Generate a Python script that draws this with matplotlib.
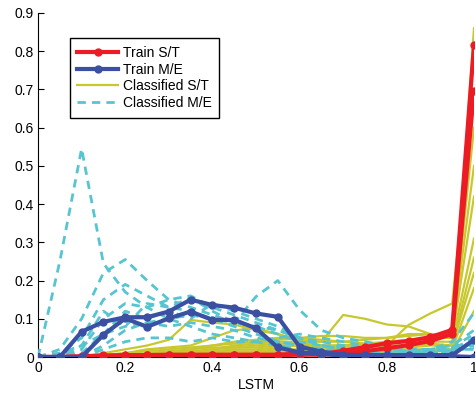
import matplotlib
matplotlib.use("Agg")
import matplotlib.pyplot as plt

plt.rcParams["font.family"] = ["Liberation Sans", "DejaVu Sans"]

# x positions (thresholds)
x = [0.0, 0.05, 0.1, 0.15, 0.2, 0.25, 0.3, 0.35, 0.4, 0.45, 0.5,
     0.55, 0.6, 0.65, 0.7, 0.75, 0.8, 0.85, 0.9, 0.95, 1.0]

train_st = [
    [0, 0, 0.002, 0.004, 0.005, 0.005, 0.006, 0.006, 0.006, 0.006, 0.006,
     0.006, 0.009, 0.008, 0.016, 0.026, 0.036, 0.042, 0.052, 0.071, 0.815],
    [0, 0, 0.001, 0.002, 0.003, 0.004, 0.004, 0.005, 0.005, 0.005, 0.005,
     0.005, 0.006, 0.006, 0.009, 0.015, 0.023, 0.031, 0.042, 0.060, 0.697],
]

train_me = [
    [0, 0, 0.066, 0.092, 0.104, 0.104, 0.119, 0.150, 0.136, 0.129, 0.114,
     0.105, 0.027, 0.014, 0.006, 0.005, 0.005, 0.005, 0.005, 0.005, 0.045],
    [0, 0, 0, 0.058, 0.101, 0.079, 0.101, 0.119, 0.097, 0.097, 0.075,
     0.025, 0.012, 0.008, 0.003, 0.002, 0.002, 0.002, 0.002, 0.002, 0.0],
]

classified_st = [
    [0, 0, 0, 0.010, 0.020, 0.030, 0.045, 0.097, 0.090, 0.085, 0.070,
     0.060, 0.040, 0.030, 0.020, 0.015, 0.012, 0.010, 0.015, 0.020, 0.86],
    [0, 0, 0, 0.005, 0.010, 0.020, 0.025, 0.030, 0.050, 0.070, 0.075,
     0.060, 0.045, 0.040, 0.110, 0.100, 0.085, 0.080, 0.060, 0.050, 0.82],
    [0, 0, 0, 0, 0.005, 0.010, 0.015, 0.020, 0.030, 0.040, 0.045,
     0.050, 0.050, 0.045, 0.040, 0.035, 0.030, 0.084, 0.114, 0.140, 0.70],
    [0, 0, 0, 0.005, 0.010, 0.015, 0.020, 0.025, 0.030, 0.035, 0.040,
     0.045, 0.050, 0.055, 0.055, 0.050, 0.050, 0.055, 0.060, 0.055, 0.60],
    [0, 0, 0, 0, 0.004, 0.006, 0.010, 0.015, 0.020, 0.030, 0.035,
     0.040, 0.040, 0.040, 0.040, 0.045, 0.050, 0.060, 0.060, 0.060, 0.50],
    [0, 0, 0, 0, 0, 0.005, 0.008, 0.010, 0.015, 0.020, 0.020,
     0.025, 0.030, 0.030, 0.030, 0.035, 0.040, 0.045, 0.050, 0.050, 0.42],
    [0, 0, 0, 0, 0.003, 0.005, 0.008, 0.012, 0.020, 0.025, 0.030,
     0.035, 0.035, 0.030, 0.030, 0.030, 0.035, 0.040, 0.040, 0.040, 0.31],
    [0, 0, 0, 0.002, 0.004, 0.008, 0.012, 0.020, 0.025, 0.025, 0.025,
     0.030, 0.030, 0.025, 0.025, 0.025, 0.030, 0.030, 0.035, 0.030, 0.26],
    [0, 0, 0, 0, 0.002, 0.004, 0.006, 0.010, 0.012, 0.015, 0.015,
     0.020, 0.020, 0.020, 0.020, 0.020, 0.025, 0.025, 0.030, 0.030, 0.22],
    [0, 0, 0, 0, 0, 0.002, 0.004, 0.006, 0.008, 0.010, 0.012,
     0.015, 0.015, 0.015, 0.015, 0.015, 0.020, 0.020, 0.020, 0.020, 0.18],
    [0, 0, 0, 0, 0, 0, 0.002, 0.004, 0.006, 0.008, 0.010,
     0.010, 0.010, 0.012, 0.012, 0.012, 0.015, 0.015, 0.015, 0.015, 0.12],
]

classified_me = [
    [0, 0.25, 0.545, 0.245, 0.170, 0.130, 0.100, 0.080, 0.060, 0.050, 0.040,
     0.030, 0.020, 0.015, 0.010, 0.010, 0.010, 0.010, 0.010, 0.015, 0.030],
    [0, 0.02, 0.100, 0.220, 0.255, 0.200, 0.150, 0.130, 0.110, 0.090, 0.080,
     0.060, 0.040, 0.030, 0.020, 0.020, 0.020, 0.015, 0.020, 0.030, 0.070],
    [0, 0.01, 0.030, 0.060, 0.080, 0.090, 0.100, 0.110, 0.100, 0.090, 0.158,
     0.200, 0.123, 0.070, 0.050, 0.040, 0.030, 0.020, 0.020, 0.040, 0.115],
    [0, 0.01, 0.050, 0.150, 0.190, 0.160, 0.130, 0.120, 0.100, 0.080, 0.060,
     0.040, 0.030, 0.020, 0.015, 0.015, 0.015, 0.010, 0.015, 0.020, 0.050],
    [0, 0, 0.020, 0.100, 0.140, 0.130, 0.150, 0.160, 0.130, 0.110, 0.090,
     0.070, 0.050, 0.030, 0.020, 0.020, 0.015, 0.015, 0.015, 0.020, 0.040],
    [0, 0, 0.030, 0.120, 0.080, 0.140, 0.130, 0.155, 0.120, 0.090, 0.080,
     0.070, 0.050, 0.030, 0.025, 0.020, 0.020, 0.020, 0.020, 0.025, 0.060],
    [0, 0, 0.010, 0.060, 0.120, 0.100, 0.120, 0.100, 0.140, 0.120, 0.100,
     0.080, 0.050, 0.040, 0.030, 0.025, 0.020, 0.020, 0.020, 0.020, 0.035],
    [0, 0, 0, 0.030, 0.070, 0.090, 0.080, 0.090, 0.080, 0.070, 0.050,
     0.040, 0.030, 0.020, 0.015, 0.015, 0.010, 0.010, 0.010, 0.015, 0.025],
    [0, 0, 0, 0.020, 0.040, 0.050, 0.050, 0.040, 0.050, 0.040, 0.040,
     0.050, 0.060, 0.050, 0.040, 0.030, 0.020, 0.015, 0.015, 0.020, 0.020],
]

y_ticks = [0, 0.1, 0.2, 0.3, 0.4, 0.5, 0.6, 0.7, 0.8, 0.9]
y_tick_labels = ["0", "0.1", "0.2", "0.3", "0.4", "0.5", "0.6", "0.7", "0.8", "0.9"]
x_ticks = [0, 0.2, 0.4, 0.6, 0.8, 1.0]
x_tick_labels = ["0", "0.2", "0.4", "0.6", "0.8", "1"]

RED = "#ED1C24"
BLUE = "#3B4FA3"
YELLOW = "#C8C82E"
CYAN = "#56C5D0"

fig = plt.figure(figsize=(4.77, 3.95), dpi=100)
ax = fig.add_axes([0.0797, 0.0962, 0.9140, 0.8709])

for i, s in enumerate(classified_st):
    ax.plot(x, s, color=YELLOW, lw=1.6, label="Classified S/T" if i == 0 else None, zorder=2)
for i, s in enumerate(classified_me):
    ax.plot(x, s, color=CYAN, lw=2.0, ls=(0, (3.0, 2.2)),
            label="Classified M/E" if i == 0 else None, zorder=3)
for i, s in enumerate(train_st):
    ax.plot(x, s, color=RED, lw=3.0, marker="o", ms=5,
            label="Train S/T" if i == 0 else None, zorder=4)
for i, s in enumerate(train_me):
    ax.plot(x, s, color=BLUE, lw=3.0, marker="o", ms=5,
            label="Train M/E" if i == 0 else None, zorder=5)

ax.set_xlim(0, 1)
ax.set_ylim(0, 0.9)
ax.set_xticks(x_ticks)
ax.set_xticklabels(x_tick_labels)
ax.set_yticks(y_ticks)
ax.set_yticklabels(y_tick_labels)
ax.tick_params(direction="in", length=4, labelsize=10, pad=3)
ax.spines["top"].set_visible(False)
ax.spines["right"].set_visible(False)
ax.set_xlabel("LSTM", fontsize=10, labelpad=2)

handles, labels = ax.get_legend_handles_labels()
order = [labels.index(l) for l in ["Train S/T", "Train M/E", "Classified S/T", "Classified M/E"]]
leg = ax.legend([handles[k] for k in order], [labels[k] for k in order],
                loc="upper left", bbox_to_anchor=(0.073, 0.927), borderaxespad=0,
                fontsize=10, numpoints=1, handlelength=2.9, handletextpad=0.35,
                labelspacing=0.2, borderpad=0.55, fancybox=False,
                edgecolor="black", framealpha=1)
leg.get_frame().set_linewidth(1.0)

fig.savefig("out.png", dpi=100)
